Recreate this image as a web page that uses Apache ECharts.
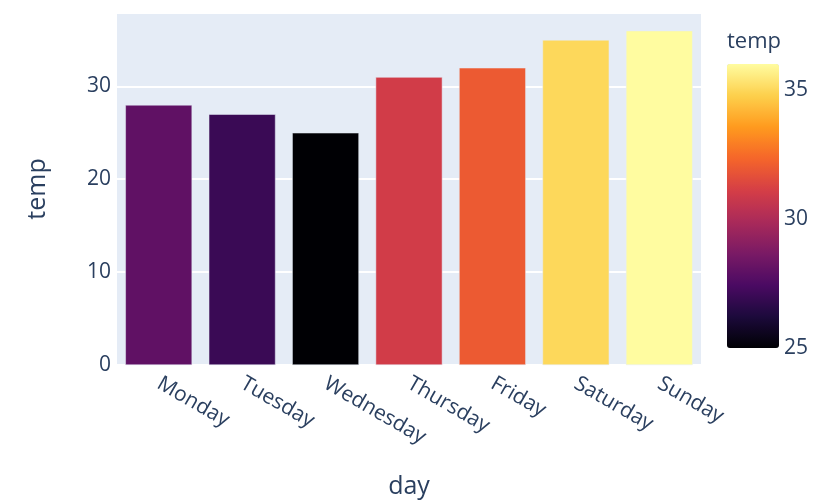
<html>
<head>
    <meta http-equiv="Content-Type" content="text/html; charset=utf-8" />
    <script type="text/javascript" src="https://cdn.jsdelivr.net/npm/echarts@6/dist/echarts.min.js"></script>
    <style>
        html, body { margin: 0; padding: 0; background: #fff; }
    </style>
</head>
<body>
<div id="main" style="width: 829px;height:504px;"></div>

<script type="text/javascript">
    // data
    var days = ['Monday', 'Tuesday', 'Wednesday', 'Thursday', 'Friday', 'Saturday', 'Sunday'];
    var temps = [28, 27, 25, 31, 32, 35, 36];
    // inferno colour scale, low -> high (tuned to the colours seen in the picture)
    var inferno = ['#000004', '#1c0a3c', '#4b0a63', '#7a1a65', '#aa2a5a',
                   '#d53e46', '#f5652a', '#ff9a1e', '#fdd04c', '#fffca0'];

    var textColor = '#2a3f5f';
    var fontName = '"Open Sans", Verdana, Arial, sans-serif';

    var myChart = echarts.init(document.getElementById('main'));

    var option = {
        textStyle: { fontFamily: fontName, color: textColor },
        animation: false,
        title: {
            text: 'temp',
            left: 727,
            top: 31,
            padding: 0,
            textStyle: { fontFamily: fontName, color: textColor, fontSize: 22, fontWeight: 'normal' }
        },
        grid: [
            {
                left: 117, right: 128, top: 13, bottom: 139,
                show: true, backgroundColor: '#E5ECF6', borderWidth: 0
            },
            // grid used only for the colour bar tick labels
            { left: 727, top: 64, width: 52, height: 284, show: false }
        ],
        xAxis: [
            {
                type: 'category',
                data: days,
                gridIndex: 0,
                name: 'day',
                nameLocation: 'middle',
                nameGap: 109,
                nameTextStyle: { fontSize: 25, color: textColor, fontFamily: fontName },
                axisLine: { show: false },
                axisTick: { show: false },
                axisLabel: { rotate: -30, fontSize: 21, color: textColor, margin: 17, fontFamily: fontName }
            },
            { type: 'value', gridIndex: 1, show: false }
        ],
        yAxis: [
            {
                type: 'value',
                gridIndex: 0,
                min: 0,
                max: 37.9,
                interval: 10,
                name: 'temp',
                nameLocation: 'middle',
                nameGap: 67,
                nameTextStyle: { fontSize: 25, color: textColor, fontFamily: fontName },
                axisLine: { show: false },
                axisTick: { show: false },
                axisLabel: { fontSize: 21, color: textColor, margin: 6, showMaxLabel: false, fontFamily: fontName },
                splitLine: { lineStyle: { color: '#ffffff', width: 2 } }
            },
            {
                type: 'value',
                gridIndex: 1,
                position: 'right',
                min: 25,
                max: 36,
                interval: 5,
                axisLine: { show: false },
                axisTick: { show: false },
                splitLine: { show: false },
                axisLabel: { fontSize: 21, color: textColor, margin: 5, showMaxLabel: false, fontFamily: fontName }
            }
        ],
        visualMap: {
            type: 'continuous',
            seriesIndex: 0,
            dimension: 1,
            min: 25,
            max: 36,
            left: 727,
            top: 64,
            padding: 0,
            itemWidth: 52,
            itemHeight: 284,
            calculable: false,
            hoverLink: false,
            inRange: { color: inferno }
        },
        series: [
            {
                name: 'temp',
                type: 'bar',
                xAxisIndex: 0,
                yAxisIndex: 0,
                data: temps,
                barCategoryGap: '20%',
                itemStyle: { borderColor: '#E5ECF6', borderWidth: 0.5 }
            }
        ]
    };

    myChart.setOption(option);
</script>
</body>
</html>
